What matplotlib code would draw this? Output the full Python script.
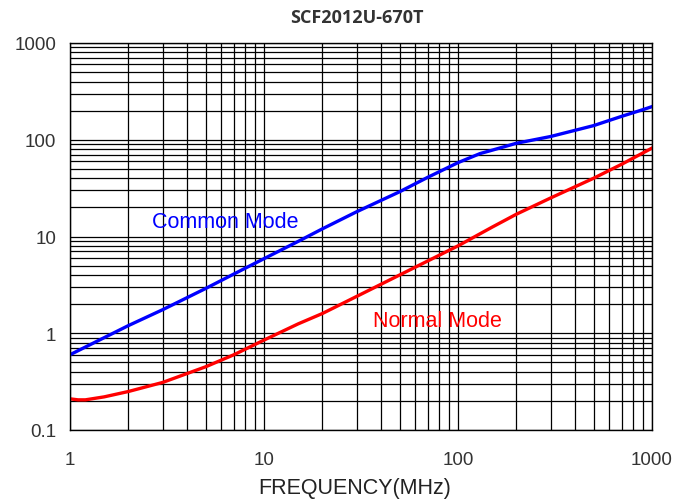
import matplotlib
matplotlib.use("Agg")
import matplotlib.pyplot as plt
import numpy as np

freq_cm = [1, 1.5, 2, 3, 5, 7, 10, 15, 20, 30, 50, 70, 100, 130, 150, 200, 300, 500, 700, 900, 1000]
common_mode = [0.6, 0.9, 1.2, 1.75, 2.9, 4.1, 5.9, 8.9, 12, 18, 29, 41, 58, 72, 78, 92, 108, 140, 175, 205, 220]
freq_nm = [1, 1.1, 1.2, 1.5, 2, 3, 5, 7, 10, 15, 20, 30, 50, 70, 100, 150, 200, 300, 500, 700, 1000]
normal_mode = [0.21, 0.205, 0.205, 0.22, 0.25, 0.31, 0.45, 0.6, 0.85, 1.25, 1.6, 2.4, 4.0, 5.6, 8.0, 12.5, 17, 25, 40, 56, 82]

title = "SCF2012U-670T"
xlabel = "FREQUENCY(MHz)"
xticks = [1, 10, 100, 1000]
xticklabels = ["1", "10", "100", "1000"]
yticks = [0.1, 1, 10, 100, 1000]
yticklabels = ["0.1", "1", "10", "100", "1000"]

fig = plt.figure(figsize=(6.91, 5.02), dpi=100)
ax = fig.add_axes([70/691, 71/502, 582/691, 387/502])
ax.set_xscale("log")
ax.set_yscale("log")
ax.set_xlim(1, 1000)
ax.set_ylim(0.1, 1000)

ax.grid(True, which="both", color="black", linewidth=0.9)
ax.set_axisbelow(True)
ax.plot(freq_cm, common_mode, color="#0000ff", lw=2.4)
ax.plot(freq_nm, normal_mode, color="#ff0000", lw=2.4)

ax.set_xticks(xticks)
ax.set_xticklabels(xticklabels, family="Liberation Sans", fontsize=13.5, color="#333333")
ax.set_yticks(yticks)
ax.set_yticklabels(yticklabels, family="Liberation Sans", fontsize=13.5, color="#333333")
ax.tick_params(which="both", length=0)
ax.tick_params(axis="x", pad=15)
ax.tick_params(axis="y", pad=10)
for s in ax.spines.values():
    s.set_color("black")
    s.set_linewidth(1.0)

ax.text(2.65, 14.3, "Common Mode", color="#0000ff", fontsize=15.5, family="Liberation Sans", va="center", ha="left")
ax.text(36.5, 1.36, "Normal Mode", color="#ff0000", fontsize=15.5, family="Liberation Sans", va="center", ha="left")

fig.text(357/691, 1-18/502, title, ha="center", va="center", fontsize=13, fontweight="bold", family="Open Sans", color="#333333")
fig.text(355/691, 1-489/502, xlabel, ha="center", va="center", fontsize=15.5, family="Liberation Sans", color="#222222")

fig.savefig("out.png", dpi=100)
